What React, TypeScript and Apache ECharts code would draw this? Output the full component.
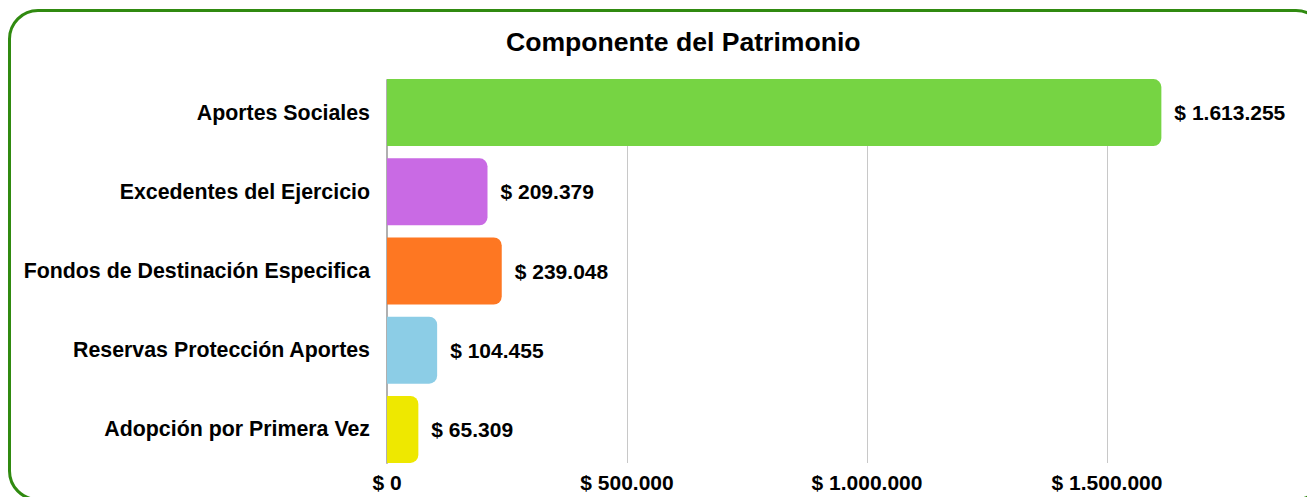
import React, { useEffect, useRef } from "react";
import * as echarts from "echarts";

const title = "Componente del Patrimonio";
const categories = [
  "Aportes Sociales",
  "Excedentes del Ejercicio",
  "Fondos de Destinación Especifica",
  "Reservas Protección Aportes",
  "Adopción por Primera Vez",
];
const values = [1613255, 209379, 239048, 104455, 65309];
const barColors = ["#76d443", "#c96ae4", "#fe7722", "#8ccde6", "#eee800"];
const axisMin = 0;
const axisMax = 1800000;
const axisInterval = 500000;

const FONT = "'Liberation Sans', Arial, sans-serif";

const money = (v: number) =>
  "$ " + Math.round(v).toString().replace(/\B(?=(\d{3})+(?!\d))/g, ".");

export default function App() {
  const ref = useRef<HTMLDivElement>(null);

  useEffect(() => {
    if (!ref.current) return;
    const chart = echarts.init(ref.current, undefined, { renderer: "svg" });
    const textBase = { fontFamily: FONT, fontWeight: "bold" as const, color: "#000", fontSize: 21 };
    chart.setOption({
      animation: false,
      title: {
        text: title,
        left: 506,
        top: 28,
        padding: 0,
        textStyle: { fontFamily: FONT, fontWeight: "bold", color: "#000", fontSize: 26.6 },
      },
      grid: [
        { left: 387, right: 56, top: 73, bottom: 28 },
        { left: 387, right: 56, top: 80, bottom: 34 },
      ],
      xAxis: [
        { gridIndex: 0, type: "value", min: axisMin, max: axisMax, show: false },
        {
          gridIndex: 1,
          type: "value",
          min: axisMin,
          max: axisMax,
          interval: axisInterval,
          axisLine: { show: false },
          axisTick: { show: false },
          splitLine: {
            show: true,
            showMinLine: false,
            showMaxLine: false,
            lineStyle: { color: "#c8c8c8", width: 1 },
          },
          axisLabel: {
            ...textBase,
            margin: 9,
            showMaxLabel: false,
            formatter: (v: number) => (v % axisInterval === 0 ? money(v) : ""),
          },
        },
      ],
      yAxis: [
        {
          gridIndex: 0,
          type: "category",
          inverse: true,
          data: categories,
          axisLine: { show: false },
          axisTick: { show: false },
          splitLine: { show: false },
          axisLabel: { ...textBase, fontSize: 21.35, margin: 17 },
        },
        {
          gridIndex: 1,
          type: "value",
          min: 0,
          max: 1,
          axisLine: { show: true, onZero: false, lineStyle: { color: "#b0b0b0", width: 2 } },
          axisTick: { show: false },
          axisLabel: { show: false },
          splitLine: { show: false },
        },
      ],
      series: [
        {
          type: "bar",
          xAxisIndex: 0,
          yAxisIndex: 0,
          barWidth: 67,
          data: values.map((v, i) => ({ value: v, itemStyle: { color: barColors[i] } })),
          itemStyle: { borderRadius: [0, 8, 8, 0] },
          label: {
            show: true,
            position: "right",
            distance: 13,
            ...textBase,
            formatter: (p: any) => money(p.value),
          },
        },
      ],
    });
    return () => chart.dispose();
  }, []);

  return (
    <div
      style={{
        position: "fixed",
        left: 0,
        top: 0,
        width: 1307,
        height: 497,
        overflow: "hidden",
        background: "#fff",
      }}
    >
      <div
        style={{
          position: "absolute",
          left: 8,
          top: 9,
          width: 1312,
          height: 486,
          border: "3px solid #308a10",
          borderRadius: 30,
        }}
      />
      <div ref={ref} style={{ position: "absolute", left: 0, top: 0, width: 1307, height: 497 }} />
    </div>
  );
}
